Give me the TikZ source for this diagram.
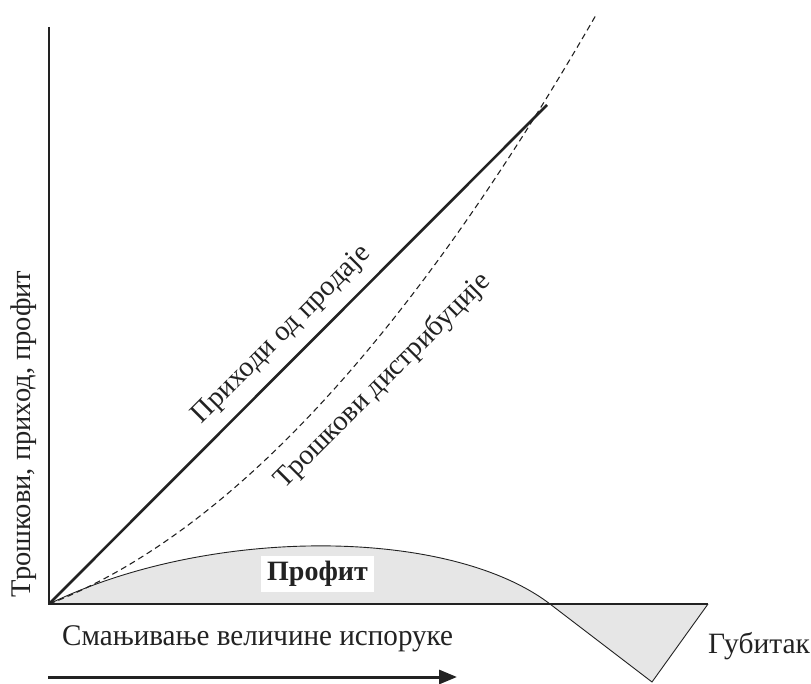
\documentclass[tikz,border=0pt]{standalone}
\usepackage{fontspec}
\setmainfont{Liberation Serif}
\newfontfamily\narrowserif[FakeStretch=0.97]{Liberation Serif}
\usetikzlibrary{arrows.meta}
\definecolor{ink}{HTML}{222222}
\definecolor{lossgray}{HTML}{E6E6E6}
\tikzset{
  axisline/.style={draw=ink, line width=1.4pt},
  revline/.style={draw=ink, line width=2.6pt},
  costline/.style={draw=ink, line width=1.1pt, dash pattern=on 6pt off 4pt},
  profline/.style={draw=ink, line width=0.9pt},
  lbl/.style={text=ink, inner sep=0pt, font=\fontsize{28.5}{33}\selectfont},
  biglbl/.style={text=ink, inner sep=0pt, font=\fontsize{30}{35}\narrowserif},
  gublbl/.style={text=ink, inner sep=0pt, font=\fontsize{29.5}{34}\selectfont},
  proflbl/.style={text=ink, fill=white, inner sep=0pt, minimum width=113pt, minimum height=36pt, font=\fontsize{28}{32}\selectfont\bfseries},
  arrowline/.style={draw=ink, line width=3pt, -{Triangle[length=18pt,width=14pt]}}
}
\begin{document}
\begin{tikzpicture}[x=1pt,y=-1pt]
\useasboundingbox (0,0) rectangle (811,684);
\coordinate (O) at (49,604);
\coordinate (ytop) at (49,27);
\coordinate (xend) at (708,604);
\coordinate (cross) at (550,604);
\coordinate (lossbot) at (652,682);
\coordinate (rev) at (547,105);
\coordinate (costtop) at (596,15);
\coordinate (a0) at (48,677);
\coordinate (a1) at (457,677);
% profit / loss area
\fill[lossgray] (O) .. controls (209,526) and (449,527) .. (cross) -- (lossbot) -- (xend) -- cycle;
\draw[profline] (O) .. controls (209,526) and (449,527) .. (cross) -- (lossbot) -- (xend);
% axes
\draw[axisline] (ytop) -- (O) -- (xend);
% revenue
\draw[revline] (O) -- (rev);
% costs
\draw[costline] (O) .. controls (228,535) and (410,338) .. (costtop);
% labels
\node[lbl, rotate=90] (ylab) at (24,434) {Трошкови, приход, профит};
\node[lbl, rotate=45] (revlab) at (282,335) {Приходи од продаје};
\node[lbl, rotate=45] (costlab) at (383,381) {Трошкови дистрибуције};
\node[proflbl] (proflab) at (317.5,574) {Профит};
\node[biglbl, anchor=base west] (xlab) at (62,645) {Смањивање величине испоруке};
\node[gublbl, anchor=base west] (losslab) at (708,653) {Губитак};
\draw[arrowline] (a0) -- (a1);
\end{tikzpicture}
\end{document}
